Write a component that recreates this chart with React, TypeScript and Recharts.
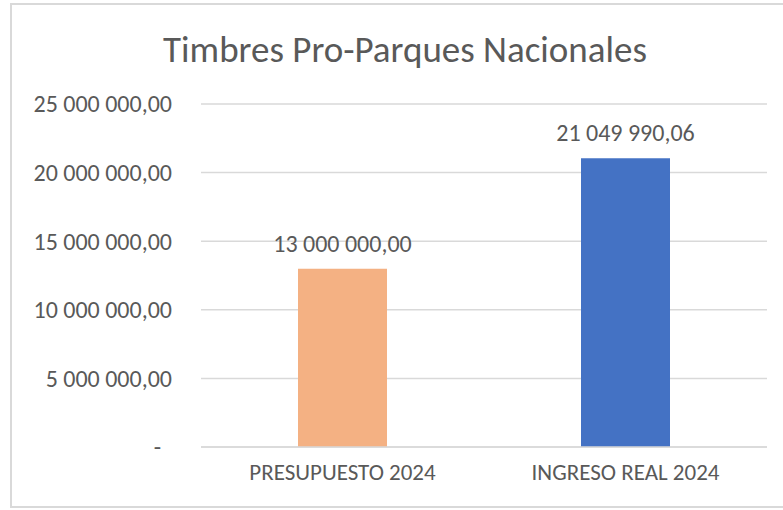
import React from "react";
import { BarChart, Bar, XAxis, YAxis, CartesianGrid, LabelList, Cell } from "recharts";

const categories = ["PRESUPUESTO 2024", "INGRESO REAL 2024"];
const amounts = [13000000, 21049990.06];
const barColors = ["#F4B183", "#4472C4"];
const yTicks = [0, 5000000, 10000000, 15000000, 20000000, 25000000];

const data = categories.map((name, i) => ({ name, value: amounts[i] }));

const FONT = "Calibri, Carlito, 'Open Sans', sans-serif";
const TEXT = "#595959";

const fmt = (v: number) => {
  if (v === 0) return "-";
  const [int, dec] = v.toFixed(2).split(".");
  return int.replace(/\B(?=(\d{3})+(?!\d))/g, " ") + "," + dec;
};

const YTick = (props: any) => {
  const { x, y, payload } = props;
  const isZero = payload.value === 0;
  return (
    <text
      x={isZero ? x - 11 : x}
      y={y}
      dy="0.35em"
      textAnchor="end"
      fill={TEXT}
      fontSize={24}
      fontFamily={FONT}
    >
      {fmt(payload.value)}
    </text>
  );
};

const BarLabel = (props: any) => {
  const { x, y, width, value } = props;
  return (
    <text
      x={Number(x) + Number(width) / 2}
      y={Number(y) - 17}
      textAnchor="middle"
      fill={TEXT}
      fontSize={24}
      fontFamily={FONT}
    >
      {fmt(Number(value))}
    </text>
  );
};

const App = () => {
  return (
    <div style={{ position: "absolute", left: 0, top: 0, width: 783, height: 510, overflow: "hidden", background: "#fff" }}>
      <div
        style={{
          position: "absolute",
          left: 10,
          top: 3,
          width: 790,
          height: 505,
          border: "2px solid #D9D9D9",
          boxSizing: "border-box",
        }}
      />
      <div
        style={{
          position: "absolute",
          left: 0,
          width: 810,
          top: 28,
          textAlign: "center",
          fontFamily: FONT,
          fontSize: 37,
          color: TEXT,
          lineHeight: "44px",
        }}
      >
        Timbres Pro-Parques Nacionales
      </div>
      <div style={{ position: "absolute", left: 0, top: 0 }}>
        <BarChart
          width={783}
          height={510}
          data={data}
          margin={{ top: 104, right: 16, bottom: 0, left: 11 }}
          barSize={89}
        >
          <CartesianGrid vertical={false} stroke="#D9D9D9" strokeWidth={1.5} />
          <XAxis
            dataKey="name"
            height={63}
            axisLine={{ stroke: "#D9D9D9", strokeWidth: 1.5 }}
            tickLine={false}
            tickSize={0}
            tickMargin={17}
            tick={{ fill: TEXT, fontSize: 23, fontFamily: FONT }}
          />
          <YAxis
            width={190}
            domain={[0, 25000000]}
            ticks={yTicks}
            axisLine={false}
            tickLine={false}
            tickSize={0}
            tickMargin={29}
            tick={<YTick />}
          />
          <Bar dataKey="value" isAnimationActive={false}>
            {data.map((d, i) => (
              <Cell key={d.name} fill={barColors[i]} />
            ))}
            <LabelList dataKey="value" content={<BarLabel />} />
          </Bar>
        </BarChart>
      </div>
    </div>
  );
};

export default App;
